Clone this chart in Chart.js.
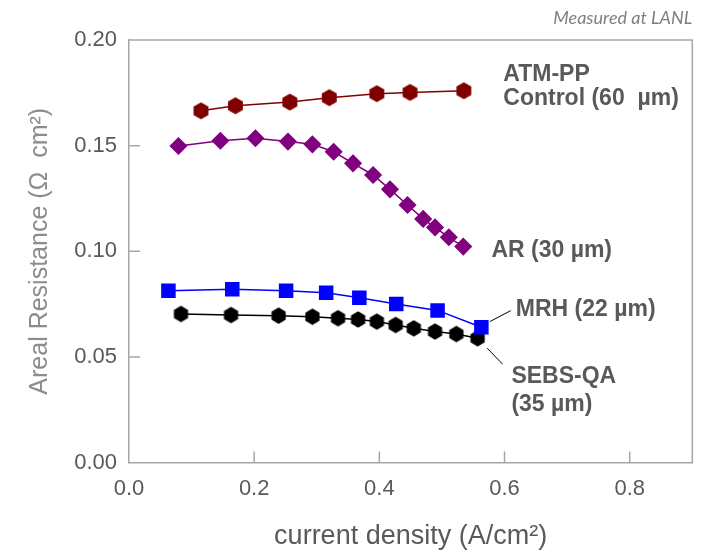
<!DOCTYPE html>
<html>
<head>
<meta charset="utf-8">
<script src="https://cdn.jsdelivr.net/npm/chart.js@4/dist/chart.umd.min.js"></script>
<style>
  body { margin: 0; background: #ffffff; }
  #wrap { width: 703px; height: 553px; }
</style>
</head>
<body>
<div id="wrap"><canvas id="myChart" width="703" height="553"></canvas></div>
<script>
// values ++++++++++++++++
const atmX = [0.115, 0.170, 0.257, 0.320, 0.396, 0.449, 0.535];
const atmY = [0.1665, 0.1689, 0.1706, 0.1727, 0.1746, 0.1752, 0.1760];

const arX = [0.079, 0.146, 0.202, 0.254, 0.293, 0.327, 0.358, 0.390, 0.417, 0.445, 0.470, 0.489, 0.511, 0.534];
const arY = [0.1498, 0.1523, 0.1535, 0.1519, 0.1506, 0.1471, 0.1416, 0.1361, 0.1293, 0.1219, 0.1153, 0.1113, 0.1066, 0.1022];

const mrhX = [0.063, 0.165, 0.251, 0.315, 0.368, 0.427, 0.493, 0.563];
const mrhY = [0.0813, 0.0820, 0.0813, 0.0804, 0.0780, 0.0750, 0.0720, 0.0640];

const sebsX = [0.083, 0.163, 0.239, 0.293, 0.334, 0.366, 0.396, 0.426, 0.455, 0.489, 0.523, 0.557];
const sebsY = [0.0703, 0.0698, 0.0695, 0.0690, 0.0683, 0.0677, 0.0667, 0.0651, 0.0635, 0.0620, 0.0608, 0.0588];

const xTicks = [0.0, 0.2, 0.4, 0.6, 0.8];
const yTicks = [0.00, 0.05, 0.10, 0.15, 0.20];

const seriesNames = ['ATM-PP Control (60 µm)', 'AR (30 µm)', 'MRH (22 µm)', 'SEBS-QA (35 µm)'];

// pair x and y lists into points
function toPoints(xs, ys){
    return xs.map((x, i) => ({x: x, y: ys[i]}));
}

// hexagon marker, pointy top
function makeHexagon(color, r){
    const c = document.createElement('canvas');
    const w = Math.ceil(Math.sqrt(3) * r) + 2;
    const h = Math.ceil(2 * r) + 2;
    c.width = w;
    c.height = h;
    const ctx = c.getContext('2d');
    ctx.fillStyle = color;
    ctx.beginPath();
    for (let i = 0; i < 6; i++){
        const a = Math.PI / 2 + i * Math.PI / 3;
        ctx.lineTo(w / 2 + r * Math.cos(a), h / 2 + r * Math.sin(a));
    }
    ctx.closePath();
    ctx.fill();
    return c;
}

const axisGray = '#a6a6a6';
const textGray = '#595959';

// box around the plot and inward tick marks
const frameTicks = {
    id: 'frameTicks',
    beforeDatasetsDraw(chart){
        const {ctx, chartArea: a, scales} = chart;
        ctx.save();
        ctx.strokeStyle = axisGray;
        ctx.lineWidth = 1.5;
        ctx.beginPath();
        ctx.moveTo(a.left, a.top);
        ctx.lineTo(a.right, a.top);
        ctx.lineTo(a.right, a.bottom);
        xTicks.slice(1).forEach(v => {
            const px = scales.x.getPixelForValue(v);
            ctx.moveTo(px, a.bottom);
            ctx.lineTo(px, a.bottom - 11);
        });
        yTicks.slice(1, -1).forEach(v => {
            const py = scales.y.getPixelForValue(v);
            ctx.moveTo(a.left, py);
            ctx.lineTo(a.left + 11, py);
        });
        ctx.stroke();
        ctx.restore();
    }
};

// series names next to the curves, plus the small note on top
const curveLabels = {
    id: 'curveLabels',
    afterDraw(chart){
        const {ctx, scales} = chart;
        const sx = v => scales.x.getPixelForValue(v);
        const sy = v => scales.y.getPixelForValue(v);
        const notes = [
            {text: 'ATM-PP', x: 0.598, y: 0.1834},
            {text: 'Control (60  µm)', x: 0.598, y: 0.1722},
            {text: 'AR (30 µm)', x: 0.579, y: 0.1003},
            {text: 'MRH (22 µm)', x: 0.618, y: 0.0722},
            {text: 'SEBS-QA', x: 0.611, y: 0.0406},
            {text: '(35 µm)', x: 0.611, y: 0.0272}
        ];
        ctx.save();
        ctx.fillStyle = textGray;
        ctx.font = 'bold 23px "Liberation Sans", Arial, sans-serif';
        ctx.textAlign = 'left';
        ctx.textBaseline = 'middle';
        notes.forEach(n => ctx.fillText(n.text, sx(n.x), sy(n.y)));

        // leader lines
        ctx.strokeStyle = '#000000';
        ctx.lineWidth = 1;
        ctx.beginPath();
        ctx.moveTo(sx(0.5765), sy(0.0667));
        ctx.lineTo(sx(0.610), sy(0.0719));
        ctx.moveTo(sx(0.5723), sy(0.0541));
        ctx.lineTo(sx(0.597), sy(0.0465));
        ctx.stroke();

        ctx.fillStyle = '#7f7f7f';
        ctx.font = 'italic 18px Lato, "Open Sans", sans-serif';
        ctx.textAlign = 'right';
        ctx.fillText('Measured at LANL', chart.chartArea.right, 18);
        ctx.restore();
    }
};

const ctx = document.getElementById('myChart').getContext('2d');
const myChart = new Chart(ctx, {
    type: 'line',
    data: {
        datasets: [{
            label: seriesNames[0],
            data: toPoints(atmX, atmY),
            borderColor: '#800000',
            backgroundColor: '#800000',
            borderWidth: 1.5,
            pointStyle: makeHexagon('#800000', 8.6)
        }, {
            label: seriesNames[1],
            data: toPoints(arX, arY),
            borderColor: '#800080',
            backgroundColor: '#800080',
            borderWidth: 1.5,
            pointStyle: 'rectRot',
            pointRadius: 8
        }, {
            label: seriesNames[2],
            data: toPoints(mrhX, mrhY),
            borderColor: '#0000ff',
            backgroundColor: '#0000ff',
            borderWidth: 1.5,
            pointStyle: 'rect',
            pointRadius: 9.2
        }, {
            label: seriesNames[3],
            data: toPoints(sebsX, sebsY),
            borderColor: '#000000',
            backgroundColor: '#000000',
            borderWidth: 1.5,
            pointStyle: makeHexagon('#000000', 8.2)
        }]
    },
    options: {
        responsive: false,
        animation: false,
        layout: {
            padding: {top: 40, right: 10, left: 0, bottom: 0}
        },
        plugins: {
            legend: {display: false},
            tooltip: {enabled: false}
        },
        scales: {
            x: {
                type: 'linear',
                min: 0,
                max: 0.9,
                afterFit: s => { s.height = 90.5; },
                afterBuildTicks: s => { s.ticks = xTicks.map(v => ({value: v})); },
                grid: {display: false, drawTicks: false},
                border: {display: true, color: axisGray, width: 1.5},
                ticks: {
                    padding: 13,
                    color: textGray,
                    font: {family: '"Liberation Sans", Arial, sans-serif', size: 22},
                    callback: v => v.toFixed(1)
                },
                title: {
                    display: true,
                    text: 'current density (A/cm²)',
                    color: textGray,
                    font: {family: '"Liberation Sans", Arial, sans-serif', size: 27},
                    padding: {top: 0, bottom: 0}
                }
            },
            y: {
                type: 'linear',
                min: 0,
                max: 0.2,
                afterFit: s => { s.width = 129; },
                afterBuildTicks: s => { s.ticks = yTicks.map(v => ({value: v})); },
                grid: {display: false, drawTicks: false},
                border: {display: true, color: axisGray, width: 1.5},
                ticks: {
                    padding: 12,
                    color: textGray,
                    font: {family: '"Liberation Sans", Arial, sans-serif', size: 22},
                    callback: v => v.toFixed(2)
                },
                title: {
                    display: true,
                    text: 'Areal Resistance (Ω  cm²)',
                    color: '#8c8c8c',
                    font: {family: '"Liberation Sans", Arial, sans-serif', size: 25},
                    padding: {top: 25, bottom: 0}
                }
            }
        }
    },
    plugins: [frameTicks, curveLabels]
});
</script>
</body>
</html>
